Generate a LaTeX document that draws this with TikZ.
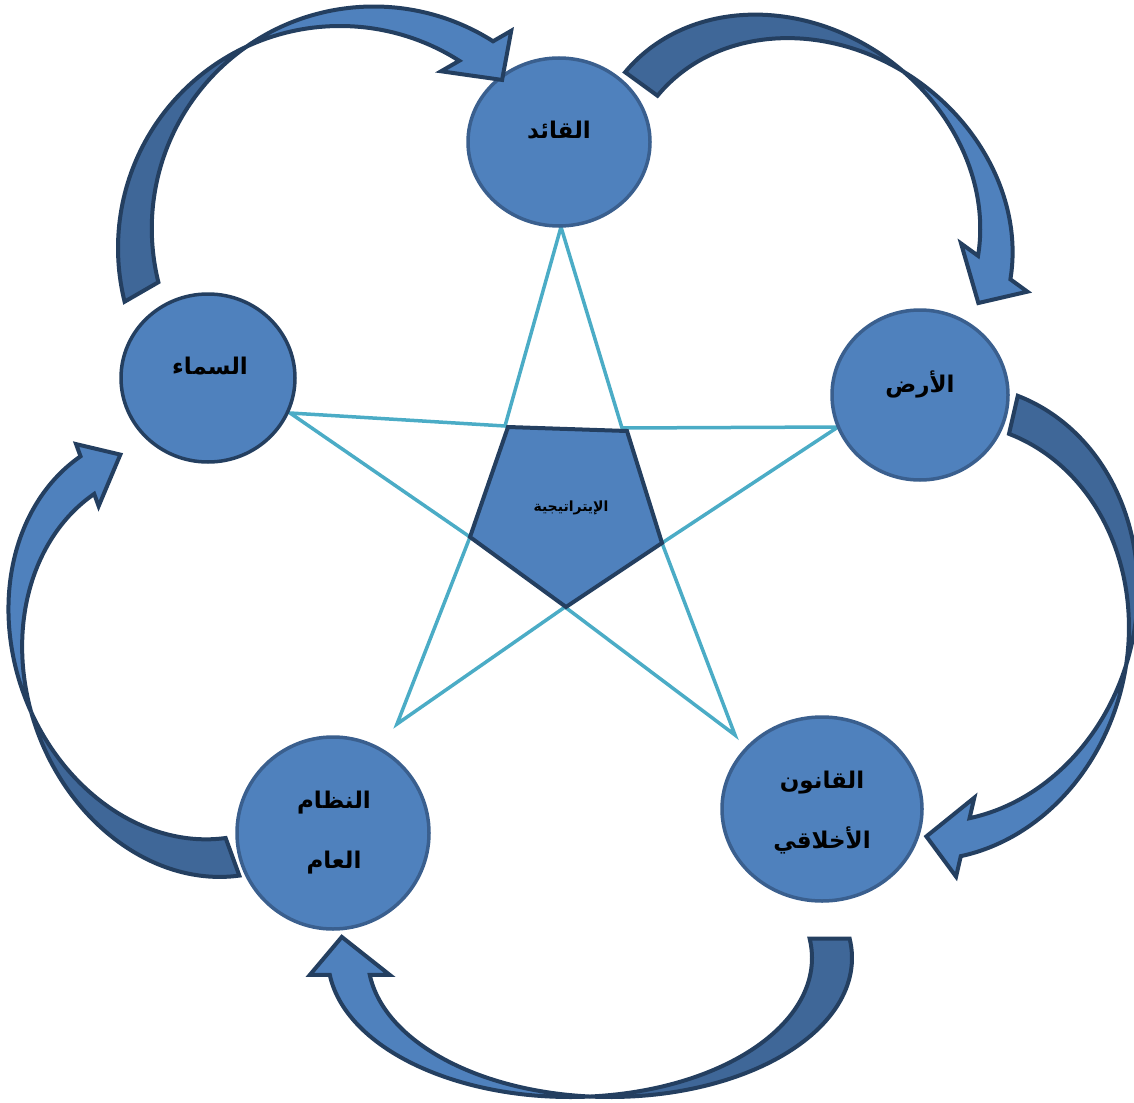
\documentclass[tikz,border=0pt]{standalone}
\usepackage{fontspec}
\usetikzlibrary{shapes.geometric}
\newfontfamily\arabicfont[Script=Arabic]{DejaVu Sans}
\TeXXeTstate=1
\definecolor{fillblue}{HTML}{4F81BD}
\definecolor{backblue}{HTML}{3F6798}
\definecolor{navy}{HTML}{243F60}
\definecolor{ringblue}{HTML}{3A5F8E}
\definecolor{starcol}{HTML}{4BACC6}
% curved block arrow: #1,#2 centre of first ellipse, #3 rotation, #4 #5 radii,
% #6 tail angle, #7 head angle, #8 band thickness, #9 barb size
\newcommand\curvarrow[9]{%
  \begin{scope}[shift={(#1,#2)}, rotate=-#3]
    \pgfmathsetmacro\dc{asin(#8/(2*#4))}
    \pgfmathsetmacro\tcA{270+\dc}
    \pgfmathsetmacro\tcB{270-\dc}
    \pgfmathsetmacro\hx{#4*cos(#7)}
    \pgfmathsetmacro\hy{#5*sin(#7)}
    \filldraw[backpart] plot[domain=#6:\tcA, samples=60, variable=\t] ({#4*cos(\t)},{#5*sin(\t)})
      -- plot[domain=\tcB:#6, samples=60, variable=\t] ({#8+#4*cos(\t)},{#5*sin(\t)}) -- cycle;
    \filldraw[frontpart] plot[domain=\tcB:#7, samples=60, variable=\t] ({#8+#4*cos(\t)},{#5*sin(\t)})
      -- ({#8+\hx+#9},{\hy}) -- ({\hx+#8/2+8},{\hy+38}) -- ({\hx-#9},{\hy})
      -- plot[domain=#7:\tcA, samples=60, variable=\t] ({#4*cos(\t)},{#5*sin(\t)}) -- cycle;
  \end{scope}}
\begin{document}
\begin{tikzpicture}[x=1pt,y=-1pt,
  circ/.style={ellipse, fill=fillblue, draw=ringblue, line width=3.5pt, inner sep=0pt},
  lbl/.style={font=\arabicfont\bfseries\fontsize{23}{60}\selectfont, align=center, inner sep=0pt},
  starline/.style={draw=starcol, line width=3.5pt, line join=miter},
  penta/.style={fill=fillblue, draw=navy, line width=4pt, line join=miter},
  frontpart/.style={fill=fillblue, draw=navy, line width=4pt, line join=miter, miter limit=4},
  backpart/.style={fill=backblue, draw=navy, line width=4pt, line join=miter, miter limit=4}]
\useasboundingbox (0,0) rectangle (1134,1102);

% star
\coordinate (sT) at (561,227);
\coordinate (iTR) at (622,428);
\coordinate (sR) at (838,427);
\coordinate (iR) at (662,543);
\coordinate (sBR) at (735,735);
\coordinate (iB) at (565,607);
\coordinate (sBL) at (397,724);
\coordinate (iL) at (470,537);
\coordinate (sL) at (290,413);
\coordinate (iTL) at (505,426);
\draw[starline] (sT) -- (iTR) -- (sR) -- (iR) -- (sBR) -- (iB) -- (sBL) -- (iL) -- (sL) -- (iTL) -- cycle;

% pentagon
\coordinate (p1) at (508,427);
\coordinate (p2) at (627,431);
\coordinate (p3) at (662,543);
\coordinate (p4) at (566,607);
\coordinate (p5) at (470,537);
\filldraw[penta] (p1) -- (p2) -- (p3) -- (p4) -- (p5) -- cycle;
\node[lbl, font=\arabicfont\bfseries\fontsize{14}{16}\selectfont] (strat) at (571,508) {\beginR الإيتراتيجية\endR};

% circles
\node[circ, minimum width=182pt, minimum height=168pt] (leader) at (559,142) {};
\node[circ, minimum width=176pt, minimum height=170pt] (earth) at (920,395) {};
\node[circ, minimum width=174pt, minimum height=168pt, draw=navy] (sky) at (208,378) {};
\node[circ, minimum width=192pt, minimum height=192pt] (order) at (333,833) {};
\node[circ, minimum width=200pt, minimum height=184pt] (moral) at (822,809) {};

\node[lbl] (tleader) at (559,130) {\beginR القائد\endR};
\node[lbl] (tearth) at (920,384) {\beginR الأرض\endR};
\node[lbl] (tsky) at (210,366) {\beginR السماء\endR};
\node[lbl] (torder) at (334,833) {\beginR النظام\endR\\\beginR العام\endR};
\node[lbl] (tmoral) at (822,813) {\beginR القانون\endR\\\beginR الأخلاقي\endR};

% curved arrows (clockwise cycle)
\curvarrow{340}{248}{-30}{222}{222}{196}{332.5}{39}{21}     % sky -> leader
\curvarrow{785.4}{199.9}{36}{205}{174}{183}{337}{40}{21}    % leader -> earth
\curvarrow{946.1}{603.4}{103}{220}{190}{187}{338}{39}{21}   % earth -> moral
\curvarrow{610}{958}{180}{242}{139}{172}{353}{40}{20}       % moral -> order
\curvarrow{197}{673}{250}{208}{170}{190}{348}{40}{13}       % order -> sky
\end{tikzpicture}
\end{document}
